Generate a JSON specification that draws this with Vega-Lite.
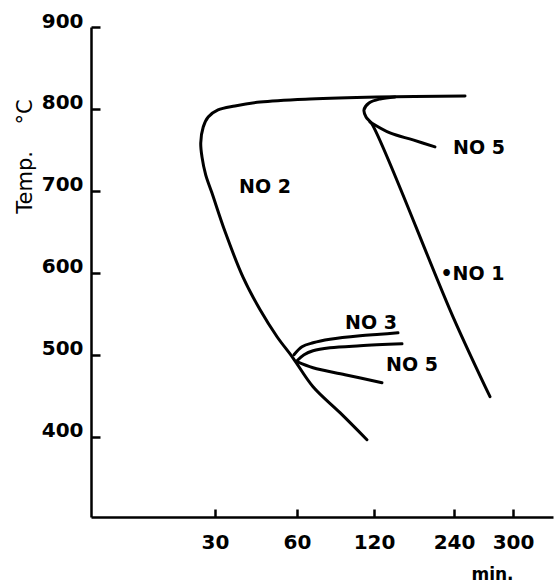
{
  "$schema": "https://vega.github.io/schema/vega-lite/v6.json",
  "width": 462,
  "height": 490,
  "autosize": "none",
  "padding": {"left": 91, "top": 27, "right": 6, "bottom": 66},
  "background": "white",
  "config": {"view": {"stroke": null}},
  "datasets": {
    "curves": [
      {"series": "NO 2", "i": 1, "t": 251.2, "temp": 815.9},
      {"series": "NO 2", "i": 2, "t": 124.5, "temp": 814.6},
      {"series": "NO 2", "i": 3, "t": 70.1, "temp": 812.2},
      {"series": "NO 2", "i": 4, "t": 46.5, "temp": 808.5},
      {"series": "NO 2", "i": 5, "t": 37.3, "temp": 803.7},
      {"series": "NO 2", "i": 6, "t": 31.1, "temp": 798.8},
      {"series": "NO 2", "i": 7, "t": 28.9, "temp": 790.2},
      {"series": "NO 2", "i": 8, "t": 28.1, "temp": 778.0},
      {"series": "NO 2", "i": 9, "t": 27.7, "temp": 758.5},
      {"series": "NO 2", "i": 10, "t": 27.9, "temp": 741.5},
      {"series": "NO 2", "i": 11, "t": 28.5, "temp": 719.5},
      {"series": "NO 2", "i": 12, "t": 29.5, "temp": 697.6},
      {"series": "NO 2", "i": 13, "t": 33.7, "temp": 650.0},
      {"series": "NO 2", "i": 14, "t": 40.2, "temp": 595.1},
      {"series": "NO 2", "i": 15, "t": 46.5, "temp": 554.9},
      {"series": "NO 2", "i": 16, "t": 52.7, "temp": 522.0},
      {"series": "NO 2", "i": 17, "t": 58.5, "temp": 496.3},
      {"series": "NO 2", "i": 18, "t": 72.5, "temp": 461.0},
      {"series": "NO 2", "i": 19, "t": 93.5, "temp": 429.3},
      {"series": "NO 2", "i": 20, "t": 114.5, "temp": 396.3},
      {"series": "NO 1", "i": 1, "t": 151.5, "temp": 814.6},
      {"series": "NO 1", "i": 2, "t": 129.0, "temp": 812.2},
      {"series": "NO 1", "i": 3, "t": 116.1, "temp": 807.3},
      {"series": "NO 1", "i": 4, "t": 112.2, "temp": 798.8},
      {"series": "NO 1", "i": 5, "t": 113.8, "temp": 790.2},
      {"series": "NO 1", "i": 6, "t": 118.4, "temp": 781.7},
      {"series": "NO 1", "i": 7, "t": 238.5, "temp": 546.3},
      {"series": "NO 1", "i": 8, "t": 276.6, "temp": 448.8},
      {"series": "NO 5 (upper)", "i": 1, "t": 116.9, "temp": 784.1},
      {"series": "NO 5 (upper)", "i": 2, "t": 144.0, "temp": 770.7},
      {"series": "NO 5 (upper)", "i": 3, "t": 178.5, "temp": 762.2},
      {"series": "NO 5 (upper)", "i": 4, "t": 211.5, "temp": 753.7},
      {"series": "NO 3 (a)", "i": 1, "t": 58.9, "temp": 500.0},
      {"series": "NO 3 (a)", "i": 2, "t": 63.9, "temp": 509.8},
      {"series": "NO 3 (a)", "i": 3, "t": 72.5, "temp": 514.6},
      {"series": "NO 3 (a)", "i": 4, "t": 85.7, "temp": 518.9},
      {"series": "NO 3 (a)", "i": 5, "t": 109.1, "temp": 523.2},
      {"series": "NO 3 (a)", "i": 6, "t": 129.0, "temp": 525.0},
      {"series": "NO 3 (a)", "i": 7, "t": 156.0, "temp": 526.8},
      {"series": "NO 3 (b)", "i": 1, "t": 60.0, "temp": 492.7},
      {"series": "NO 3 (b)", "i": 2, "t": 65.5, "temp": 500.0},
      {"series": "NO 3 (b)", "i": 3, "t": 72.5, "temp": 504.9},
      {"series": "NO 3 (b)", "i": 4, "t": 85.7, "temp": 508.5},
      {"series": "NO 3 (b)", "i": 5, "t": 109.1, "temp": 511.0},
      {"series": "NO 3 (b)", "i": 6, "t": 162.0, "temp": 513.4},
      {"series": "NO 5 (lower)", "i": 1, "t": 60.0, "temp": 491.5},
      {"series": "NO 5 (lower)", "i": 2, "t": 72.5, "temp": 484.1},
      {"series": "NO 5 (lower)", "i": 3, "t": 97.4, "temp": 475.6},
      {"series": "NO 5 (lower)", "i": 4, "t": 132.0, "temp": 465.9}
    ],
    "labels": [
      {"label": "NO 2", "t": 48.3, "temp": 704.9},
      {"label": "NO 5", "t": 265.4, "temp": 752.4},
      {"label": "•NO 1", "t": 258.8, "temp": 598.8},
      {"label": "NO 3", "t": 117.7, "temp": 538.4},
      {"label": "NO 5", "t": 177.0, "temp": 487.8}
    ]
  },
  "layer": [
    {
      "data": {"name": "curves"},
      "mark": {"type": "line", "color": "black", "strokeWidth": 3, "strokeCap": "round", "strokeJoin": "round", "interpolate": "catmull-rom"},
      "encoding": {
        "x": {
          "field": "t", "type": "quantitative",
          "scale": {"type": "linear", "domain": [10, 30, 60, 120, 240, 300, 360], "range": [0, 124, 206, 283, 363, 422, 462], "nice": false, "zero": false},
          "axis": {
            "values": [30, 60, 120, 240, 300],
            "grid": false,
            "title": "min.",
            "tickSize": -8, "tickWidth": 2.5, "tickColor": "black",
            "domainColor": "black", "domainWidth": 2.5,
            "labelPadding": 23, "labelFont": "DejaVu Sans", "labelFontSize": 20, "labelFontWeight": "bold", "labelColor": "black",
            "labelFlush": false, "labelOverlap": false,
            "titleFont": "DejaVu Sans", "titleFontSize": 17, "titleFontWeight": "bold", "titleColor": "black",
            "titleX": 401, "titleY": 62, "titleAlign": "center", "titleBaseline": "alphabetic"
          }
        },
        "y": {
          "field": "temp", "type": "quantitative",
          "scale": {"domain": [302, 900], "nice": false, "zero": false},
          "axis": {
            "values": [400, 500, 600, 700, 800, 900],
            "grid": false,
            "title": "Temp.\u00a0\u00a0\u00a0\u00a0°C",
            "tickSize": -9, "tickWidth": 2.5, "tickColor": "black",
            "domainColor": "black", "domainWidth": 2.5,
            "labelPadding": 17, "labelOffset": -6, "labelFont": "DejaVu Sans", "labelFontSize": 20, "labelFontWeight": "bold", "labelColor": "black",
            "labelFlush": false, "labelOverlap": false,
            "titleFont": "DejaVu Sans", "titleFontSize": 21, "titleFontWeight": "normal", "titleColor": "black",
            "titleAngle": -90, "titleX": -60, "titleY": 129, "titleAlign": "center", "titleBaseline": "alphabetic"
          }
        },
        "detail": {"field": "series"},
        "order": {"field": "i"}
      }
    },
    {
      "data": {"name": "labels"},
      "mark": {"type": "text", "font": "DejaVu Sans", "fontSize": 19, "fontWeight": "bold", "color": "black", "align": "center", "baseline": "middle"},
      "encoding": {
        "x": {"field": "t", "type": "quantitative"},
        "y": {"field": "temp", "type": "quantitative"},
        "text": {"field": "label"}
      }
    }
  ]
}
